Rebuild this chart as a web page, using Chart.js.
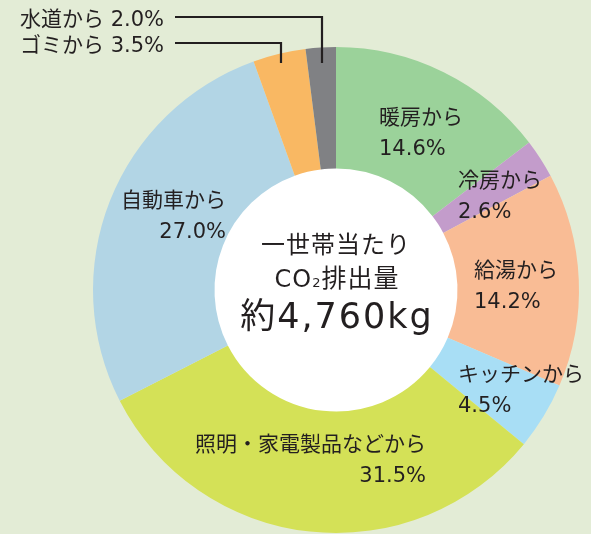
<!DOCTYPE html>
<html>
<head>
<meta charset="utf-8">
<script src="https://cdn.jsdelivr.net/npm/chart.js@4/dist/chart.umd.min.js"></script>
<style>
html,body{margin:0;padding:0;background:#e3ecd6;}
#wrap{width:591px;height:534px;position:relative;}
</style>
</head>
<body>
<div id="wrap"><canvas id="c" width="591" height="534"></canvas></div>
<script>
const categories = ['暖房から','冷房から','給湯から','キッチンから','照明・家電製品などから','自動車から','ゴミから','水道から'];
const values = [14.6, 2.6, 14.2, 4.5, 31.5, 27.0, 3.5, 2.0];
const valueLabels = ['14.6%','2.6%','14.2%','4.5%','31.5%','27.0%','3.5%','2.0%'];
const centerLines = ['一世帯当たり','CO₂排出量','約4,760kg'];
const colors = ['#9bd29a','#c39ccb','#f9bc95','#a8def5','#d4e157','#b2d5e5','#f9b863','#808184'];

const FONT = '"DejaVu Sans","Noto Sans CJK JP",sans-serif';
const TXT = '#231f20';

// label layout: offsets of first-line baseline relative to chart center
const labelLayout = [
  {dx: 43,  dy: -166, align:'left',  mode:'two'},
  {dx: 122, dy: -103, align:'left',  mode:'two'},
  {dx: 138, dy: -13,  align:'left',  mode:'two'},
  {dx: 122, dy: 91,   align:'left',  mode:'two'},
  {dx: 90,  dy: 161,  align:'right', mode:'two'},
  {dx: -110,dy: -83,  align:'right', mode:'two'},
  {dx: -172,dy: -238, align:'right', mode:'one', lineX: -55},
  {dx: -172,dy: -264, align:'right', mode:'one', lineX: -14}
];

const labelPlugin = {
  id: 'labels',
  beforeDatasetsDraw(chart) {
    const arc = chart.getDatasetMeta(0).data[0];
    const ctx = chart.ctx;
    ctx.save();
    ctx.beginPath();
    ctx.arc(arc.x, arc.y, arc.innerRadius + 1, 0, Math.PI * 2);
    ctx.fillStyle = '#ffffff';
    ctx.fill();
    ctx.restore();
  },
  afterDatasetsDraw(chart) {
    const meta = chart.getDatasetMeta(0);
    const arc0 = meta.data[0];
    const cx = arc0.x, cy = arc0.y, R = arc0.outerRadius;
    const ctx = chart.ctx;
    ctx.save();
    ctx.fillStyle = TXT;
    ctx.textBaseline = 'alphabetic';
    ctx.font = '21px ' + FONT;
    ctx.letterSpacing = '0px';
    categories.forEach((cat, i) => {
      const L = labelLayout[i];
      const x = cx + L.dx, y = cy + L.dy;
      ctx.textAlign = L.align;
      if (L.mode === 'two') {
        ctx.fillText(cat, x, y);
        ctx.fillText(valueLabels[i], x, y + 31);
      } else {
        ctx.fillText(cat + ' ' + valueLabels[i], x, y);
        const ly = y - 9;
        ctx.strokeStyle = TXT;
        ctx.lineWidth = 2.2;
        ctx.beginPath();
        ctx.moveTo(x + 11, ly);
        ctx.lineTo(cx + L.lineX, ly);
        ctx.lineTo(cx + L.lineX, cy - R + 16);
        ctx.stroke();
      }
    });
    // center text
    ctx.textAlign = 'center';
    ctx.font = '24px ' + FONT;
    ctx.letterSpacing = '1px';
    ctx.fillText(centerLines[0], cx, cy - 37);
    const main = centerLines[1];
    const parts = [['CO', 24, 0], ['2', 13, 0], [main.slice(3), 25, 0]];
    ctx.textAlign = 'left';
    ctx.letterSpacing = '1px';
    let total = 0;
    parts.forEach(p => { ctx.font = p[1] + 'px ' + FONT; total += ctx.measureText(p[0]).width; });
    let px = cx - total / 2 + 1;
    parts.forEach(p => { ctx.font = p[1] + 'px ' + FONT; ctx.fillText(p[0], px, cy - 3); px += ctx.measureText(p[0]).width; });
    ctx.textAlign = 'center';
    ctx.font = '35px ' + FONT;
    ctx.letterSpacing = '2px';
    ctx.fillText(centerLines[2], cx + 1, cy + 38);
    ctx.restore();
  }
};

new Chart(document.getElementById('c'), {
  type: 'doughnut',
  data: {
    labels: categories,
    datasets: [{
      data: values,
      backgroundColor: colors,
      borderWidth: 0,
      hoverOffset: 0
    }]
  },
  options: {
    responsive: false,
    animation: false,
    cutout: '50%',
    rotation: 0,
    layout: { padding: { left: 93, right: 12, top: 47, bottom: 1 } },
    plugins: { legend: { display: false }, tooltip: { enabled: false } }
  },
  plugins: [labelPlugin]
});
</script>
</body>
</html>
